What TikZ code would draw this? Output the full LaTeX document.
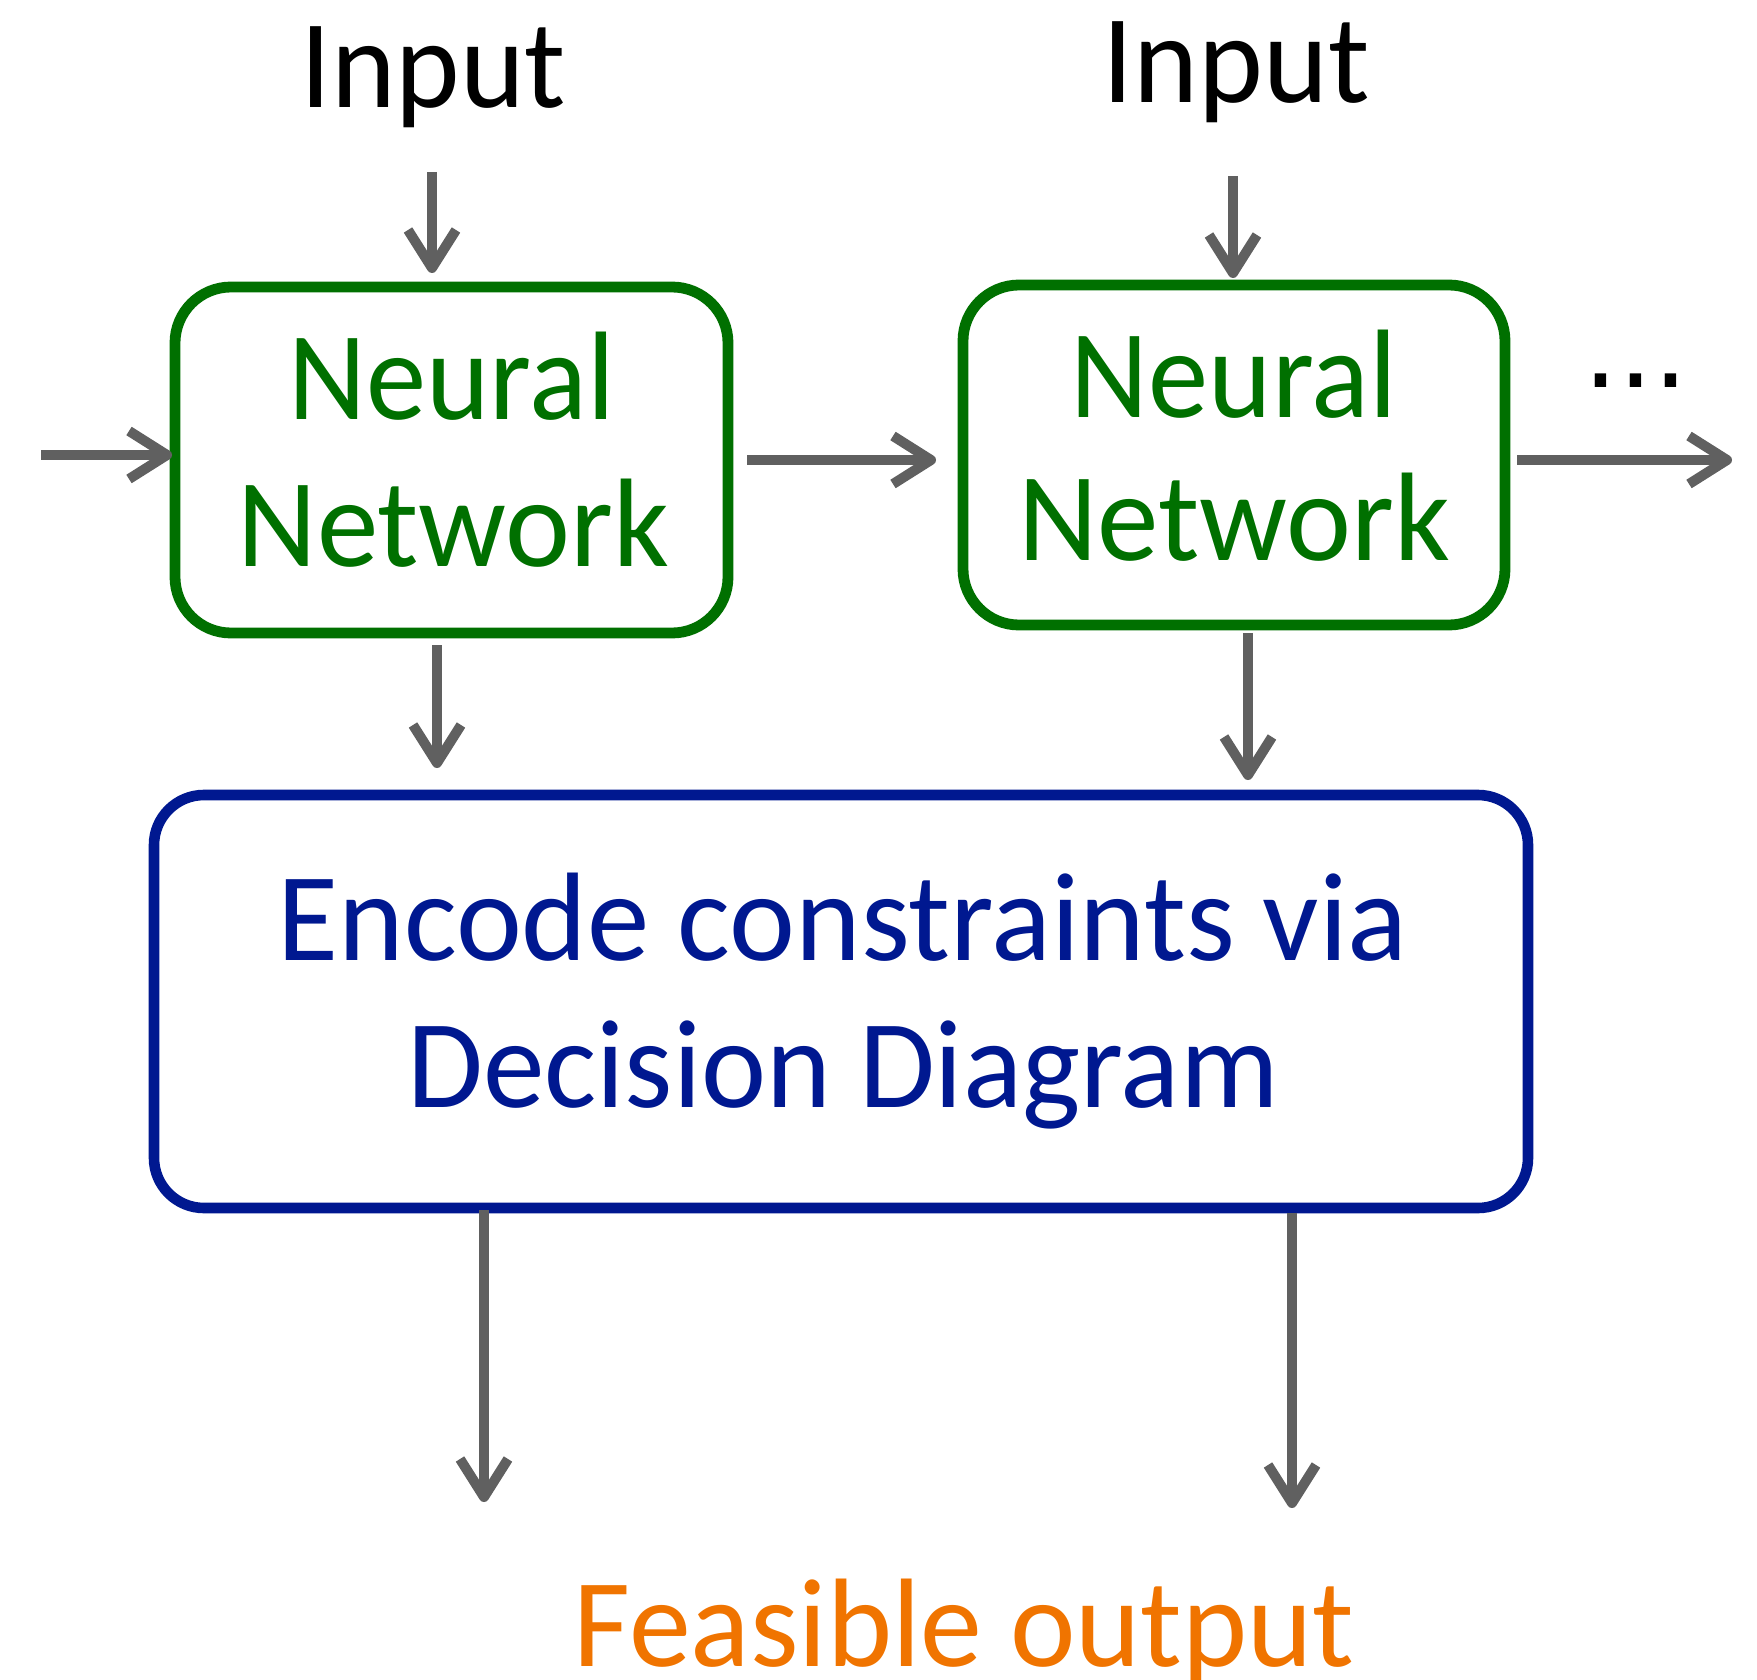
\documentclass[tikz,border=0pt]{standalone}
\usepackage{graphicx}
\usepackage{fontspec}
\setmainfont{Carlito}
\newfontfamily\dotfont{DejaVu Sans}
\usetikzlibrary{arrows.meta,calc}
\definecolor{nngreen}{RGB}{0,112,0}
\definecolor{ddblue}{RGB}{0,24,144}
\definecolor{arrgray}{RGB}{96,96,96}
\definecolor{outorange}{RGB}{240,116,0}
% horizontally condensed text
\newcommand\sq[2]{\scalebox{#1}[1]{#2}}

\begin{document}
\begin{tikzpicture}[x=0.5pt,y=-0.5pt,
  txt/.style={inner sep=0pt, outer sep=0pt, anchor=base,
              font=\fontsize{63}{73.5}\selectfont},
  nnbox/.style={draw=nngreen, line width=5.4pt, rounded corners=28pt,
                inner sep=0pt, outer sep=0pt},
  ddbox/.style={draw=ddblue, line width=5.3pt, rounded corners=25pt,
                inner sep=0pt, outer sep=0pt},
  arr/.style={draw=arrgray, line width=5pt,
              -{Straight Barb[length=19pt,width=24pt,line join=round,line cap=butt]}}
]
\useasboundingbox (0,0) rectangle (1757,1680);

% boxes
\node[nnbox, minimum width=276.5pt, minimum height=173pt] (nn1) at (451.5,460) {};
\node[nnbox, minimum width=271pt, minimum height=170pt] (nn2) at (1234,455) {};
\node[ddbox, minimum width=687pt, minimum height=206.5pt] (enc) at (841,1001.5) {};

% labels
\node[txt] (in1) at (433,108) {\sq{0.975}{Input}};
\node[txt] (in2) at (1236,103) {\sq{0.98}{Input}};
\node[txt, text=nngreen] (nn1a) at ($(nn1.center)+(0,-41)$) {\sq{0.957}{Neural}};
\node[txt, text=nngreen] (nn1b) at ($(nn1.center)+(2,106)$) {\sq{0.977}{Network}};
\node[txt, text=nngreen] (nn2a) at ($(nn2.center)+(0,-38)$) {\sq{0.957}{Neural}};
\node[txt, text=nngreen] (nn2b) at ($(nn2.center)+(0,105)$) {\sq{0.977}{Network}};
\node[txt, text=ddblue] (enca) at ($(enc.center)+(2,-41.5)$) {\sq{0.991}{Encode constraints via}};
\node[txt, text=ddblue] (encb) at ($(enc.center)+(2,105.5)$) {\sq{0.979}{Decision Diagram}};
\node[txt, text=outorange] (out) at (964,1666) {\sq{0.984}{Feasible output}};
\node[inner sep=0pt, outer sep=0pt, anchor=base, font=\dotfont\fontsize{55}{60}\selectfont]
  (dots) at (1636,387) {...};

% inputs into the networks
\draw[arr] ($(in1.base)+(-1,64)$) -- ($(in1.base |- nn1.north)+(-1,-14)$);
\draw[arr] ($(in2.base)+(-3,73)$) -- ($(in2.base |- nn2.north)+(-3,-7)$);

% hidden state passed along the chain
\draw[arr] ($(nn1.west)+(-134,-5)$) -- ($(nn1.west)+(-3,-5)$);
\draw[arr] ($(nn1.east)+(19,0)$) -- ($(nn1.east -| nn2.west)+(-27,0)$);
\draw[arr] ($(nn2.east)+(12,5)$) -- ++(215,0);

% network outputs into the decision diagram
\draw[arr] ($(nn1.south)+(-14.5,12)$) -- ($(nn1.south |- enc.north)+(-14.5,-27)$);
\draw[arr] ($(nn2.south)+(14,8)$) -- ($(nn2.south |- enc.north)+(14,-15)$);

% feasible outputs
\draw[arr] ($(enc.south)+(-357,2)$) -- ($(enc.south)+(-357,294)$);
\draw[arr] ($(enc.south)+(451,5)$) -- ($(enc.south)+(451,300)$);
\end{tikzpicture}
\end{document}
